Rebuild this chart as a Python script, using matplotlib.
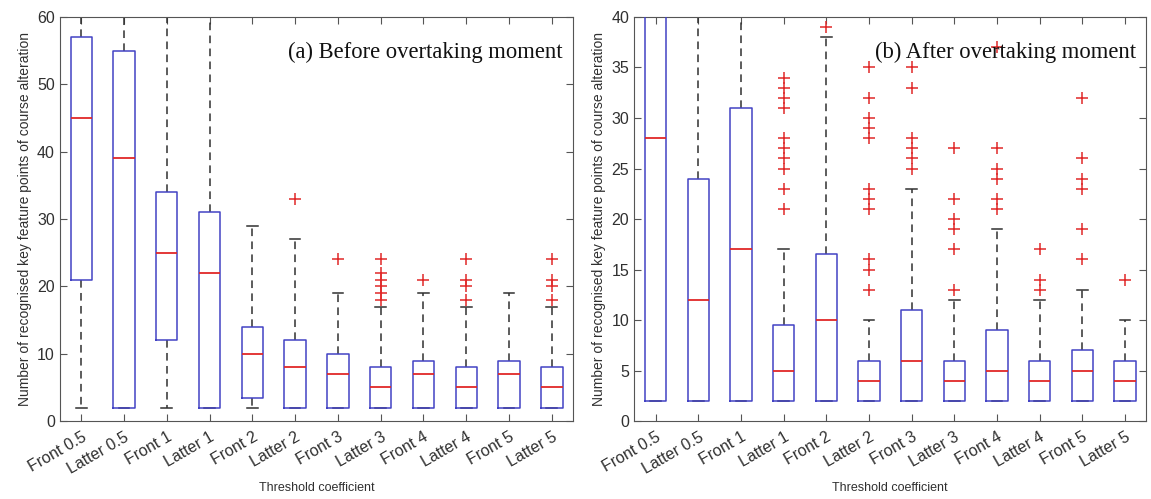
import matplotlib
matplotlib.use("Agg")
import matplotlib.pyplot as plt

categories = ["Front 0.5", "Latter 0.5", "Front 1", "Latter 1", "Front 2", "Latter 2",
              "Front 3", "Latter 3", "Front 4", "Latter 4", "Front 5", "Latter 5"]

# (a) before overtaking moment
lo_a = [2, 2, 2, 2, 2, 2, 2, 2, 2, 2, 2, 2]
q1_a = [21, 2, 12, 2, 3.5, 2, 2, 2, 2, 2, 2, 2]
med_a = [45, 39, 25, 22, 10, 8, 7, 5, 7, 5, 7, 5]
q3_a = [57, 55, 34, 31, 14, 12, 10, 8, 9, 8, 9, 8]
hi_a = [64, 64, 64, 64, 29, 27, 19, 17, 19, 17, 19, 17]
out_a = [[], [], [], [], [], [33], [24], [18, 19, 20, 21, 22, 24], [21],
         [18, 20, 21, 24], [], [18, 20, 21, 24]]

# (b) after overtaking moment
lo_b = [2, 2, 2, 2, 2, 2, 2, 2, 2, 2, 2, 2]
q1_b = [2, 2, 2, 2, 2, 2, 2, 2, 2, 2, 2, 2]
med_b = [28, 12, 17, 5, 10, 4, 6, 4, 5, 4, 5, 4]
q3_b = [45, 24, 31, 9.5, 16.5, 6, 11, 6, 9, 6, 7, 6]
hi_b = [48, 44, 44, 17, 38, 10, 23, 12, 19, 12, 13, 10]
out_b = [[], [], [], [21, 23, 25, 26, 27, 28, 31, 32, 33, 34], [39],
         [13, 15, 16, 21, 22, 23, 28, 29, 30, 32, 35], [25, 26, 27, 28, 33, 35],
         [13, 17, 19, 20, 22, 27], [21, 22, 24, 25, 27, 37], [13, 14, 17],
         [16, 19, 23, 24, 26, 32], [14]]

BLUE = "#4242c4"
RED = "#e02828"
DARK = "#303030"
FRAME = "#555555"


def make_stats(lo, q1, med, q3, hi, out):
    return [dict(whislo=a, q1=b, med=c, q3=d, whishi=e, fliers=f)
            for a, b, c, d, e, f in zip(lo, q1, med, q3, hi, out)]


def draw_panel(ax, stats, ymax, yticks, title):
    ax.bxp(stats, positions=range(1, len(categories) + 1), widths=0.5, capwidths=0.25,
           boxprops=dict(color=BLUE, linewidth=1.1, zorder=4),
           medianprops=dict(color=RED, linewidth=1.3, zorder=5),
           whiskerprops=dict(color=DARK, linewidth=1.1, linestyle=(0, (5, 3.5)), zorder=2),
           capprops=dict(color=DARK, linewidth=1.1, zorder=2),
           flierprops=dict(marker="+", markeredgecolor=RED, markersize=8, markeredgewidth=1.1,
                           linestyle="none"))
    ax.set_xlim(0.5, len(categories) + 0.5)
    ax.set_ylim(0, ymax)
    ax.set_yticks(yticks)
    ax.set_xticks(range(1, len(categories) + 1))
    ax.set_xticklabels(categories, rotation=30, ha="right", rotation_mode="anchor",
                       fontsize=11, color=DARK)
    ax.tick_params(axis="both", direction="in", top=True, right=True, length=5,
                   color=FRAME, labelsize=11.5, labelcolor=DARK)
    ax.tick_params(axis="x", pad=6)
    for sp in ax.spines.values():
        sp.set_color(FRAME)
    ax.set_xlabel("Threshold coefficient", fontsize=9, color=DARK, labelpad=4)
    ax.set_ylabel("Number of recognised key feature points of course alteration",
                  fontsize=10, color=DARK, labelpad=4)
    ax.text(0.98, 0.912, title, transform=ax.transAxes, ha="right", va="center",
            fontsize=16.3, family="Liberation Serif", color="#111111")


plt.rcParams["font.family"] = ["Liberation Sans", "DejaVu Sans"]
fig = plt.figure(figsize=(11.51, 4.99), dpi=100)
ax1 = fig.add_axes([0.052, 0.156, 0.446, 0.81])
ax2 = fig.add_axes([0.551, 0.156, 0.445, 0.81])

draw_panel(ax1, make_stats(lo_a, q1_a, med_a, q3_a, hi_a, out_a), 60,
           range(0, 61, 10), "(a) Before overtaking moment")
draw_panel(ax2, make_stats(lo_b, q1_b, med_b, q3_b, hi_b, out_b), 40,
           range(0, 41, 5), "(b) After overtaking moment")

fig.savefig("out.png", dpi=100)
